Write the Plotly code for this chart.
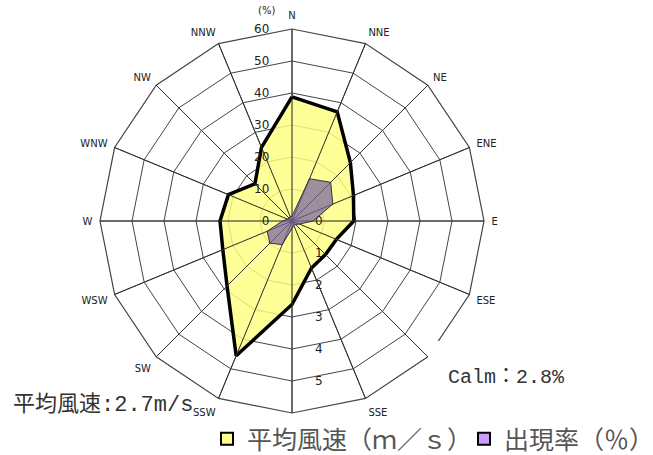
import plotly.graph_objects as go

# ---- data ----
directions = ["N", "NNE", "NE", "ENE", "E", "ESE", "SE", "SSE",
              "S", "SSW", "SW", "WSW", "W", "WNW", "NW", "NNW"]
wind_speed = [3.88, 3.69, 2.58, 2.08, 1.93, 1.50, 1.48, 1.59,
              2.61, 4.56, 2.87, 2.34, 2.25, 2.15, 1.64, 2.49]      # m/s
frequency = [1.5, 14.3, 17.1, 13.8, 6.6, 2.5, 1.5, 1.5,
             2.3, 8.0, 9.8, 8.4, 3.0, 1.5, 1.2, 1.5]              # %
pct_ticks = [0, 10, 20, 30, 40, 50, 60]
speed_ticks = [0, 1, 2, 3, 4, 5]
# direction labels hidden under the calm note / legend in the original
covered_labels = ["SE", "S"]
speed_name = "平均風速（ｍ／ｓ）"
freq_name = "出現率（％）"
calm_text = "Calm：2.8%"
mean_text = "平均風速:2.7m/s"
pct_unit = "(%)"

W, H = 653, 455
cx, cy, R = 292, 221, 192
dom_x = [(cx - R) / W, (cx + R) / W]
dom_y = [(H - cy - R) / H, (H - cy + R) / H]

def px(x):
    return x / W

def py(y):
    return (H - y) / H

def closed(v):
    return list(v) + [v[0]]

dir_text = ["" if d in covered_labels else d for d in directions]

LBL = "DejaVu Sans"
CJK = "Noto Sans CJK JP"
MONO = "Liberation Mono, Noto Sans CJK JP"
GRID = "#454545"

fig = go.Figure()

# wind speed (bottom polar, 0-6 m/s)
fig.add_trace(go.Scatterpolar(
    r=closed(wind_speed), theta=closed(directions), subplot="polar",
    mode="lines", fill="toself", fillcolor="rgba(255,255,128,0.82)",
    line=dict(color="black", width=3.5), showlegend=False, hoverinfo="skip"))

# frequency (top polar, 0-60 %)
fig.add_trace(go.Scatterpolar(
    r=closed(frequency), theta=closed(directions), subplot="polar2",
    mode="lines", fill="toself", fillcolor="rgba(120,100,160,0.72)",
    line=dict(color="#3a3040", width=1), showlegend=False, hoverinfo="skip"))

# legend entries
fig.add_trace(go.Scatterpolar(
    r=[None], theta=[directions[0]], subplot="polar2", mode="markers",
    name=speed_name,
    marker=dict(symbol="square", size=13, color="#FFFF88",
                line=dict(color="black", width=3.5))))
fig.add_trace(go.Scatterpolar(
    r=[None], theta=[directions[0]], subplot="polar2", mode="markers",
    name=freq_name,
    marker=dict(symbol="square", size=13, color="#CC99FF",
                line=dict(color="black", width=3.5))))

fig.update_layout(
    width=W, height=H,
    margin=dict(l=0, r=0, t=0, b=0, autoexpand=False),
    paper_bgcolor="white",
    polar=dict(
        domain=dict(x=dom_x, y=dom_y),
        bgcolor="white",
        gridshape="linear",
        angularaxis=dict(
            type="category", categoryarray=directions,
            tickvals=directions, ticktext=dir_text,
            direction="clockwise", rotation=90,
            showgrid=True, gridcolor=GRID, gridwidth=1,
            showline=True, linecolor=GRID, linewidth=1.2,
            ticks="outside", ticklen=5, tickcolor="rgba(0,0,0,0)",
            tickfont=dict(family=LBL, size=10, color="#222")),
        radialaxis=dict(
            range=[0, 6], tickvals=speed_ticks, angle=-90, tickangle=-90,
            side="counterclockwise",
            showline=False, showgrid=True, gridcolor=GRID, gridwidth=1,
            ticks="outside", ticklen=20, tickcolor="rgba(0,0,0,0)",
            tickfont=dict(family=LBL, size=12, color="#222"))),
    polar2=dict(
        domain=dict(x=dom_x, y=dom_y),
        bgcolor="rgba(0,0,0,0)",
        gridshape="linear",
        angularaxis=dict(
            type="category", categoryarray=directions,
            direction="clockwise", rotation=90,
            showgrid=True, gridcolor="#333", gridwidth=1,
            showline=False, showticklabels=False, ticks=""),
        radialaxis=dict(
            range=[0, 60], tickvals=pct_ticks, angle=90, tickangle=90,
            side="counterclockwise",
            showline=False, showgrid=False,
            ticks="outside", ticklen=18, tickcolor="rgba(0,0,0,0)",
            tickfont=dict(family=LBL, size=12, color="#222"))),
    legend=dict(
        orientation="h", x=px(207), xanchor="left", y=py(439), yanchor="middle",
        bgcolor="rgba(0,0,0,0)", font=dict(family=CJK, size=25, color="#555"),
        itemsizing="constant", itemwidth=30,
        entrywidthmode="pixels", entrywidth=212),
    shapes=[
        # white box behind the calm note (hides the SE corner as in the original)
        dict(type="rect", xref="paper", yref="paper", layer="above",
             x0=px(428), x1=px(630), y0=py(418), y1=py(341),
             fillcolor="white", line=dict(width=0)),
    ],
    annotations=[
        dict(text=pct_unit, xref="paper", yref="paper",
             x=px(266), y=py(10), yanchor="middle", showarrow=False,
             font=dict(family=LBL, size=10, color="#222")),
        dict(text=calm_text, xref="paper", yref="paper",
             x=px(446), y=py(378), xanchor="left", yanchor="middle",
             showarrow=False,
             font=dict(family=MONO, size=20, color="#333")),
        dict(text=mean_text, xref="paper", yref="paper",
             x=px(11), y=py(405), xanchor="left", yanchor="middle",
             showarrow=False,
             font=dict(family=MONO, size=22, color="#333")),
    ],
)

fig.write_html("out.html", config={"displayModeBar": False},
               post_script="document.body.style.margin='0';")
